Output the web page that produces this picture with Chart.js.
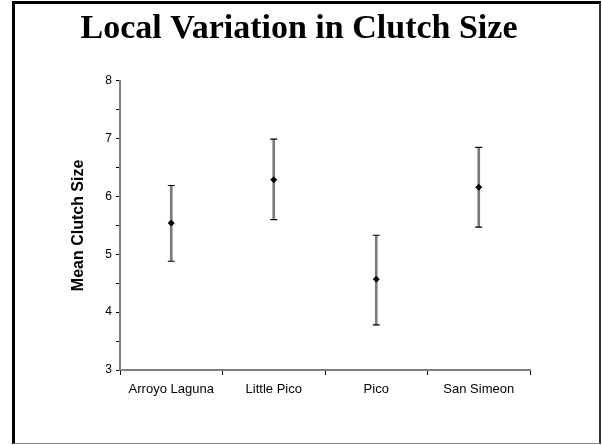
<!DOCTYPE html>
<html>
<head>
<meta charset="utf-8">
<script src="https://cdn.jsdelivr.net/npm/chart.js@4"></script>
<style>
  html, body { margin: 0; padding: 0; background: #fff; }
  #wrap { position: relative; width: 602px; height: 445px; }
  #frame {
    position: absolute; left: 12px; top: 1px; width: 589px; height: 443px;
    box-sizing: border-box; pointer-events: none;
    border-left: 3px solid #000; border-top: 3px solid #000;
    border-right: 2px solid #333; border-bottom: 1px solid #888;
  }
</style>
</head>
<body>
<div id="wrap">
  <canvas id="clutchChart" width="602" height="445"></canvas>
  <div id="frame"></div>
</div>
<script>
// values
const sites = ["Arroyo Laguna", "Little Pico", "Pico", "San Simeon"];
const means = [5.54, 6.29, 4.57, 6.16];
const upper = [6.19, 6.99, 5.33, 6.85];
const lower = [4.88, 5.60, 3.78, 5.47];

const canvas = document.getElementById("clutchChart");

new Chart(canvas, {
  data: {
    labels: sites,
    datasets: [
      {
        type: "bar",
        data: sites.map((s, i) => [lower[i], upper[i]]),
        backgroundColor: "#7a7a7a",
        barThickness: 2,
        order: 3
      },
      {
        type: "line",
        data: upper,
        showLine: false,
        pointStyle: "line",
        pointRadius: 3.5,
        borderColor: "#000",
        borderWidth: 1.2,
        order: 2
      },
      {
        type: "line",
        data: lower,
        showLine: false,
        pointStyle: "line",
        pointRadius: 3.5,
        borderColor: "#000",
        borderWidth: 1.2,
        order: 2
      },
      {
        type: "line",
        data: means,
        showLine: false,
        pointStyle: "rectRot",
        pointRadius: 3,
        backgroundColor: "#000",
        borderColor: "#000",
        borderWidth: 1,
        order: 1
      }
    ]
  },
  options: {
    responsive: false,
    animation: false,
    layout: {
      padding: { left: 68, right: 72, top: 0, bottom: 35 }
    },
    plugins: {
      legend: { display: false },
      tooltip: { enabled: false },
      title: {
        display: true,
        text: "Local Variation in Clutch Size",
        color: "#000",
        font: { family: "'Liberation Serif', 'Times New Roman', serif", size: 34, weight: "bold" },
        padding: { top: 9, bottom: 31 }
      }
    },
    scales: {
      x: {
        offset: true,
        grid: {
          display: true,
          offset: true,
          drawOnChartArea: false,
          tickLength: 5,
          tickColor: "#000",
          tickWidth: 1
        },
        border: { color: "#808080", width: 2 },
        ticks: {
          color: "#000",
          padding: 7,
          maxRotation: 0,
          font: { family: "'Liberation Sans', Arial, sans-serif", size: 13 }
        },
        afterFit: scale => { scale.height = 40; }
      },
      y: {
        min: 3,
        max: 8,
        ticks: {
          stepSize: 0.5,
          color: "#000",
          padding: 4,
          font: { family: "'Liberation Sans', Arial, sans-serif", size: 12 },
          callback: v => (Number.isInteger(v) ? v : "")
        },
        grid: {
          display: true,
          drawOnChartArea: false,
          tickLength: 4,
          tickColor: "#000",
          tickWidth: 1
        },
        border: { color: "#808080", width: 2 },
        title: {
          display: true,
          text: "Mean Clutch Size",
          color: "#000",
          padding: { top: 1, bottom: 0 },
          font: { family: "'Liberation Sans', Arial, sans-serif", size: 16, weight: "bold" }
        },
        afterFit: scale => { scale.width = 52; }
      }
    }
  }
});
</script>
</body>
</html>
